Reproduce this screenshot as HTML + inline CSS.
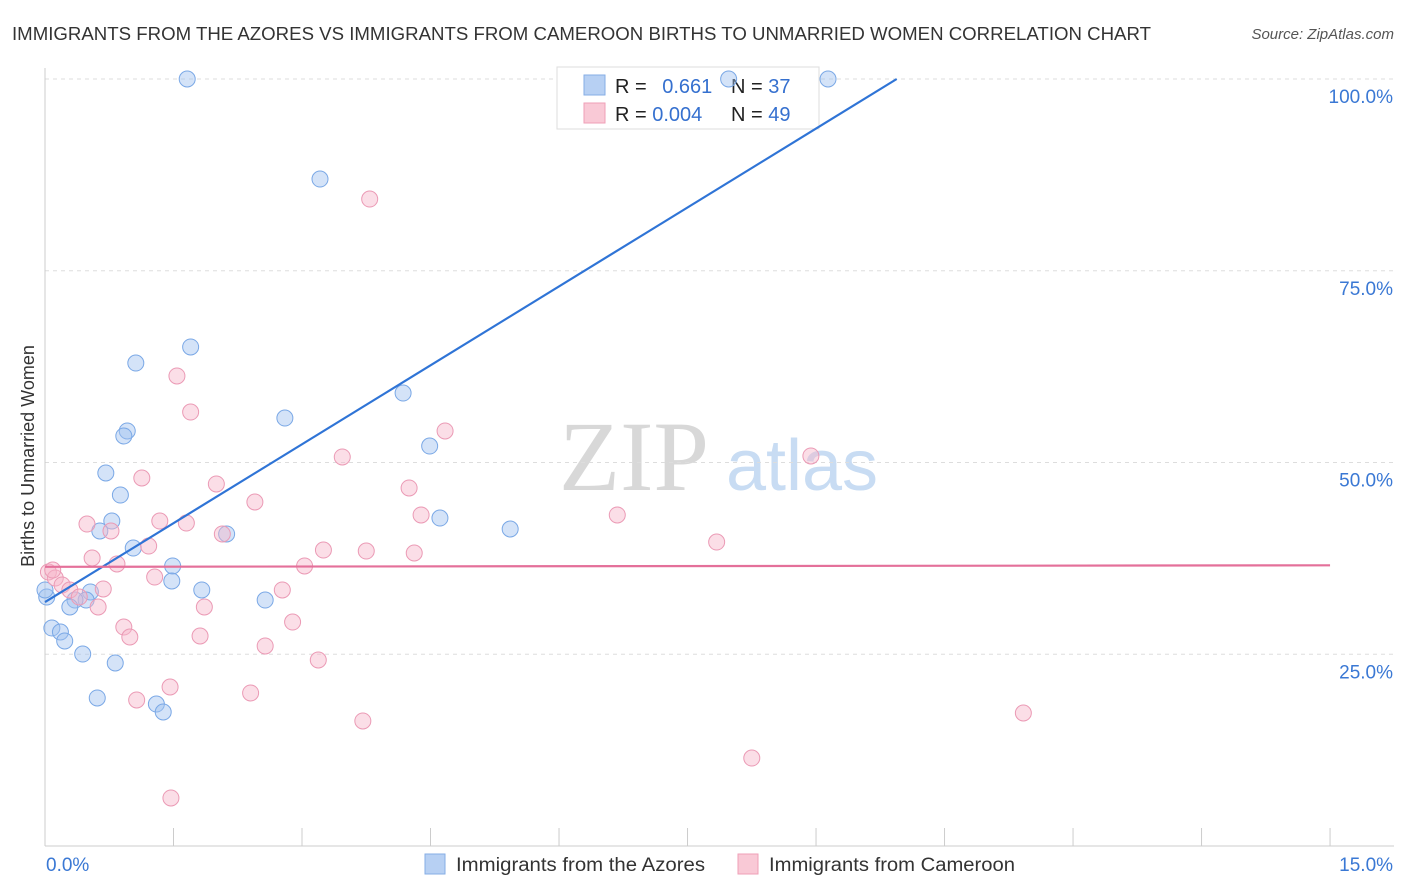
<!DOCTYPE html>
<html><head><meta charset="utf-8">
<style>
body{margin:0;background:#fff;font-family:"Liberation Sans",sans-serif;}
#wrap{position:relative;width:1406px;height:892px;overflow:hidden;}
</style></head>
<body>
<div id="wrap">
<svg id="svg" width="1406" height="892">
<text x="12" y="40" font-size="18" fill="#333" textLength="1139" lengthAdjust="spacingAndGlyphs">IMMIGRANTS FROM THE AZORES VS IMMIGRANTS FROM CAMEROON BIRTHS TO UNMARRIED WOMEN CORRELATION CHART</text>
<text x="1394" y="39" font-size="15" fill="#555" font-style="italic" text-anchor="end">Source: ZipAtlas.com</text>
<text x="634" y="490" font-size="100" fill="#d8d8d8" font-family="Liberation Serif, serif" text-anchor="middle">ZIP</text>
<text x="802" y="490" font-size="72" fill="#c8dcf3" text-anchor="middle">atlas</text>
<text transform="translate(34,456) rotate(-90)" font-size="18" fill="#333" text-anchor="middle">Births to Unmarried Women</text>
<g id="grid"></g>
<g>
<rect x="557" y="67" width="262" height="62" fill="#fff" stroke="#ddd"/>
<rect x="584" y="75" width="21" height="20" fill="#b7d0f3" stroke="#86aee6"/>
<rect x="584" y="103" width="21" height="20" fill="#f9c9d6" stroke="#ef9fb7"/>
<text x="615" y="93" font-size="20" fill="#222">R = <tspan fill="#3570cf" dx="10">0.661</tspan></text>
<text x="731" y="93" font-size="20" fill="#222">N = <tspan fill="#3570cf">37</tspan></text>
<text x="615" y="121" font-size="20" fill="#222">R = <tspan fill="#3570cf">0.004</tspan></text>
<text x="731" y="121" font-size="20" fill="#222">N = <tspan fill="#3570cf">49</tspan></text>
</g>
<g id="marks"></g>
<g>
<rect x="425" y="854" width="20" height="20" fill="#b7d0f3" stroke="#86aee6"/>
<text x="456" y="871" font-size="19" fill="#333" textLength="249" lengthAdjust="spacingAndGlyphs">Immigrants from the Azores</text>
<rect x="738" y="854" width="20" height="20" fill="#f9c9d6" stroke="#ef9fb7"/>
<text x="769" y="871" font-size="19" fill="#333" textLength="246" lengthAdjust="spacingAndGlyphs">Immigrants from Cameroon</text>
</g>
</svg>
</div>
<script>
const yTicks=[25,50,75,100];
const yTickLabels=["25.0%","50.0%","75.0%","100.0%"];
const xTickLabels=["0.0%","15.0%"];
const blueX=[1.66,3.21,7.98,9.14,1.06,1.70,0.96,0.92,2.80,4.18,4.49,0.71,0.88,0.78,0.64,1.03,2.12,1.49,1.48,1.83,4.61,5.43,0.02,0,0.53,0.48,0.35,0.29,0.08,0.18,0.23,0.44,0.82,2.57,0.61,1.30,1.38];
const blueY=[100,86.96,100,100,62.97,65.06,54.11,53.46,55.80,59.06,52.15,48.63,45.76,42.37,41.07,38.85,40.68,36.51,34.55,33.38,42.76,41.33,32.46,33.38,33.12,32.07,32.07,31.16,28.42,27.90,26.73,25.03,23.86,32.07,19.30,18.51,17.47];
const pinkX=[3.79,1.54,1.70,4.67,3.47,8.94,1.13,4.25,2.00,2.45,4.39,6.68,0.49,1.34,1.65,0.77,2.07,1.21,3.25,3.75,4.31,7.84,0.55,0.84,3.03,1.28,0.04,0.12,0.20,0.29,0.68,2.77,0.40,0.62,1.86,2.89,0.92,0.99,1.81,2.57,3.19,1.46,1.07,2.40,3.71,11.42,8.25,1.47,0.09];
const pinkY=[84.35,61.28,56.58,54.11,50.72,50.85,47.98,46.68,47.20,44.85,43.16,43.16,41.98,42.37,42.11,41.07,40.68,39.11,38.59,38.46,38.20,39.63,37.55,36.77,36.51,35.07,35.72,34.94,34.03,33.38,33.51,33.38,32.46,31.16,31.16,29.20,28.55,27.25,27.38,26.08,24.25,20.73,19.04,19.95,16.30,17.34,11.47,6.26,35.98];
const blueTrend=[31.8,6.86];
const pinkTrend=[36.4,0.013];
const X=v=>45+v*85.67, Y=v=>846-v*7.67;
const NS="http://www.w3.org/2000/svg";
const grid=document.getElementById('grid'), marks=document.getElementById('marks');
function mk(tag,attrs,parent){const e=document.createElementNS(NS,tag);for(const k in attrs)e.setAttribute(k,attrs[k]);parent.appendChild(e);return e;}
yTicks.forEach((t,i)=>{
 const l=mk('line',{x1:45,x2:1394,y1:Y(t),y2:Y(t),stroke:'#ddd','stroke-dasharray':'4,4'},grid);
 
 
 const tx=mk('text',{x:1393,y:Y(t)+24,'font-size':19,fill:'#3a78d4','text-anchor':'end'},grid);
 tx.textContent=yTickLabels[i];
 
 
});
const ax=mk('line',{x1:45,x2:1394,y1:846,y2:846,stroke:'#ccc'},grid);


const ay=mk('line',{x1:45,x2:45,y1:68,y2:846,stroke:'#ccc'},grid);


for(let i=0;i<=10;i++){
 const t=mk('line',{x1:X(i*1.5),x2:X(i*1.5),y1:828,y2:846,stroke:'#ccc'},grid);
 
 
}
[[X(0)+1,'start'],[X(15)+63,'end']].forEach((p,i)=>{
 const t=mk('text',{x:p[0],y:871,'font-size':19,fill:'#3a78d4','text-anchor':p[1]},grid);
 t.textContent=xTickLabels[i];
 
 
});
blueX.forEach((v,i)=>{
 const c=mk('circle',{cx:X(v),cy:Y(blueY[i]),r:8,fill:'rgba(160,194,240,0.45)',stroke:'#7aa8e6','stroke-width':1},marks);
 
 
});
pinkX.forEach((v,i)=>{
 const c=mk('circle',{cx:X(v),cy:Y(pinkY[i]),r:8,fill:'rgba(246,182,202,0.45)',stroke:'#eb9ab5','stroke-width':1},marks);
 
 
});
const bx2=(100-blueTrend[0])/blueTrend[1];
const bl=mk('line',{x1:X(0),y1:Y(blueTrend[0]),x2:X(bx2),y2:Y(100),stroke:'#2f74d6','stroke-width':2.2},marks);


const pl=mk('line',{x1:X(0),y1:Y(pinkTrend[0]),x2:X(15),y2:Y(pinkTrend[0]+15*pinkTrend[1]),stroke:'#e4709a','stroke-width':2.2},marks);


</script>
</body></html>
